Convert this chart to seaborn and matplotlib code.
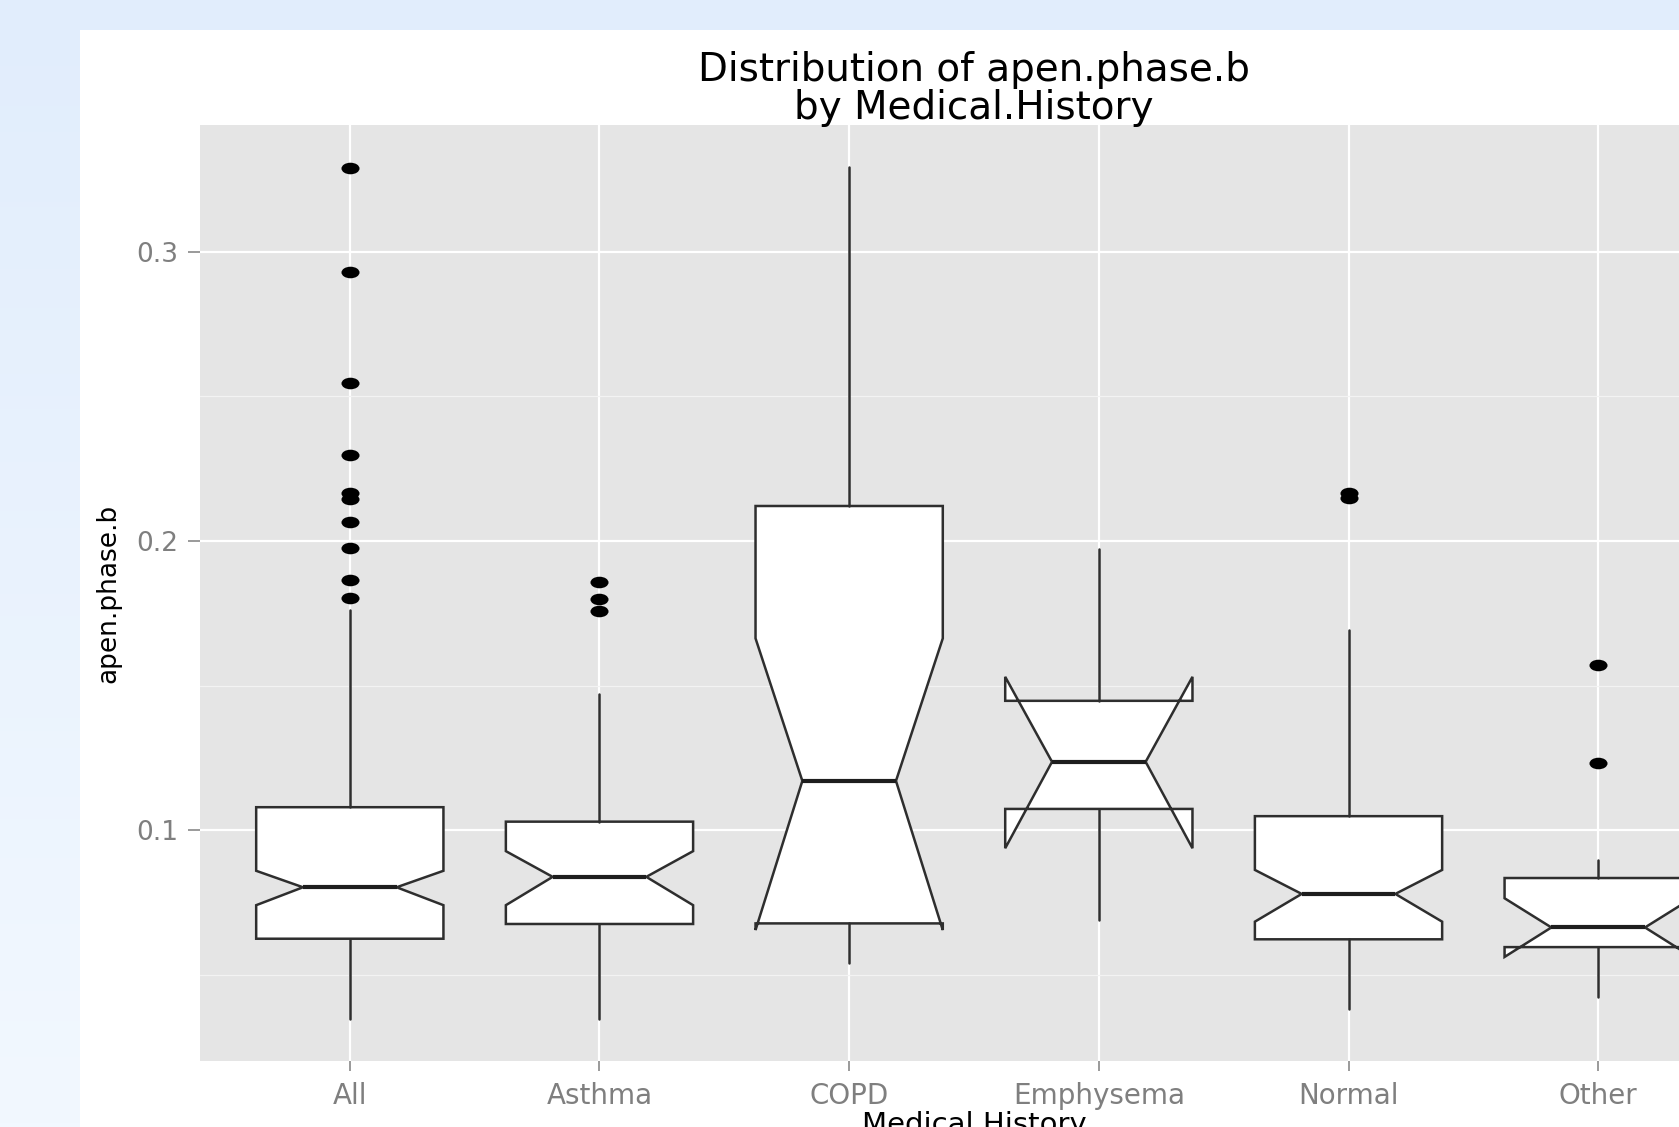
import numpy as np
import pandas as pd
import matplotlib
matplotlib.use("Agg")
import matplotlib.pyplot as plt
from matplotlib.path import Path
from matplotlib.patches import Rectangle
from matplotlib.colors import LinearSegmentedColormap
import seaborn as sns

# ---- summary statistics of apen.phase.b per medical-history group ----
categories = ["All", "Asthma", "COPD", "Emphysema", "Normal", "Other"]
whisker_low = [0.0345, 0.0346, 0.0539, 0.0689, 0.0380, 0.0423]
q1 = [0.0624, 0.0675, 0.0677, 0.1073, 0.0622, 0.0595]
median = [0.0802, 0.0838, 0.1170, 0.1236, 0.0779, 0.0663]
q3 = [0.1079, 0.1029, 0.2121, 0.1447, 0.1048, 0.0834]
whisker_high = [0.1761, 0.1471, 0.3293, 0.1972, 0.1692, 0.0898]
notch_low = [0.0740, 0.0740, 0.0654, 0.0937, 0.0683, 0.0561]
notch_high = [0.0859, 0.0927, 0.1663, 0.1530, 0.0862, 0.0764]

# points beyond the whiskers
outlier_group = (["All"] * 10 + ["Asthma"] * 3 + ["Normal"] * 2 + ["Other"] * 2)
outlier_value = [0.3290, 0.2930, 0.2548, 0.2298, 0.2165, 0.2145, 0.2067,
                 0.1975, 0.1865, 0.1802,
                 0.1859, 0.1798, 0.1759,
                 0.2165, 0.2147,
                 0.1571, 0.1231]

y_major = [0.1, 0.2, 0.3]
y_major_labels = ["0.1", "0.2", "0.3"]
y_minor = [0.05, 0.15, 0.25]

# ---- theme ----
sns.set_theme(style="darkgrid", rc={"axes.facecolor": "#E5E5E5"})
plt.rcParams["font.family"] = ["DejaVu Sans"]

W, H = 1679, 1127
fig = plt.figure(figsize=(W / 100, H / 100), dpi=100)

# soft blue page background with a white card behind the chart
bg = fig.add_axes([0, 0, 1, 1], zorder=-10)
sky = LinearSegmentedColormap.from_list("sky", ["#E1EDFC", "#F2F8FF"])
bg.imshow(np.linspace(0, 1, 256).reshape(-1, 1), aspect="auto", cmap=sky,
          extent=[0, 1, 0, 1], origin="upper")
bg.set_axis_off()
fig.add_artist(Rectangle((80 / W, 0), 1 - 80 / W, (H - 30) / H,
                         transform=fig.transFigure, facecolor="white",
                         edgecolor="none", zorder=-5))

ax = fig.add_axes([200 / W, (H - 1061) / H, 1548 / W, 936 / H])

# ---- notched boxes ----
stats = [dict(label=c, whislo=wl, q1=a, med=m, q3=b, whishi=wh,
              cilo=nl, cihi=nh, fliers=[])
         for c, wl, a, m, b, wh, nl, nh in zip(categories, whisker_low, q1, median,
                                               q3, whisker_high, notch_low, notch_high)]
ax.bxp(stats, positions=range(len(categories)), widths=0.75,
       shownotches=True, showcaps=False, showfliers=False, patch_artist=True,
       manage_ticks=False,
       boxprops=dict(facecolor="white", edgecolor="#2E2E2E", linewidth=1.8),
       whiskerprops=dict(color="#2E2E2E", linewidth=1.8),
       medianprops=dict(color="#1E1E1E", linewidth=3.0),
       zorder=3)

# ---- outliers ----
ellipse = Path.unit_circle()
flat_dot = Path(ellipse.vertices * np.array([1.0, 0.64]), ellipse.codes)
out_df = pd.DataFrame({"Medical.History": outlier_group,
                       "apen.phase.b": outlier_value})
sns.stripplot(data=out_df, x="Medical.History", y="apen.phase.b",
              order=categories, jitter=False, color="black", marker=flat_dot,
              size=13, linewidth=0, ax=ax, zorder=4)

# ---- axes, grid, labels ----
ax.set_xlim(-0.6, 5.6)
ax.set_ylim(0.0201, 0.3439)
ax.set_xticks(range(len(categories)))
ax.set_xticklabels(categories)
ax.set_yticks(y_major)
ax.set_yticklabels(y_major_labels)
ax.set_yticks(y_minor, minor=True)
ax.set_axisbelow(True)
ax.grid(False)
ax.xaxis.grid(True, which="major", color="white", linewidth=1.6)
ax.yaxis.grid(True, which="major", color="white", linewidth=1.6)
ax.yaxis.grid(True, which="minor", color="#F3F3F3", linewidth=0.9)
for s in ax.spines.values():
    s.set_visible(False)

ax.tick_params(which="minor", length=0)
ax.tick_params(axis="x", which="major", bottom=True, length=7, width=1.1,
               color="#7F7F7F", labelcolor="#7F7F7F", labelsize=20, pad=8)
ax.tick_params(axis="y", which="major", left=True, length=9, width=1.1,
               color="#7F7F7F", labelcolor="#7F7F7F", labelsize=19, pad=7)

ax.set_xlabel("Medical History", fontsize=21, color="black")
ax.xaxis.set_label_coords(0.5, -0.0535)
ax.set_ylabel("apen.phase.b", fontsize=19, color="black")
ax.yaxis.set_label_coords(-0.0505, 0.5)

ax.set_title("Distribution of apen.phase.b\nby Medical.History",
             fontsize=28, color="black", linespacing=1.0, pad=4)

fig.savefig("out.png", dpi=100)
